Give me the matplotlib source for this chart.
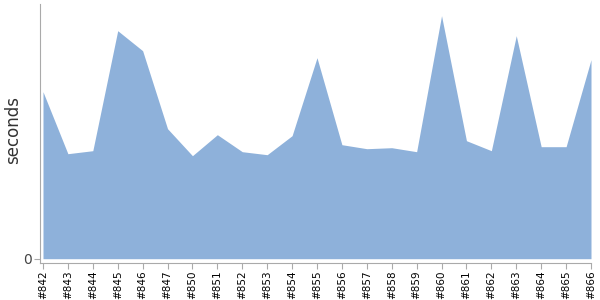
import matplotlib
matplotlib.use("Agg")
import matplotlib.pyplot as plt
import numpy as np

# build numbers shown on the x axis
builds = ["#842", "#843", "#844", "#845", "#846", "#847", "#850", "#851",
          "#852", "#853", "#854", "#855", "#856", "#857", "#858", "#859",
          "#860", "#861", "#862", "#863", "#864", "#865", "#866"]

# duration per build (seconds)
seconds = [167, 105, 108, 228, 208, 130, 103, 124,
           107, 104, 123, 201, 114, 110, 111, 107,
           243, 118, 108, 223, 112, 112, 199]

FILL = "#8eb1da"
AXIS = "#aaaaaa"

fig = plt.figure(figsize=(6, 3), dpi=100)
ax = fig.add_axes([40 / 600, 37.5 / 300, 551 / 600, 258.5 / 300])

x = np.arange(len(builds))
ax.fill_between(x, 0, seconds, color=FILL, linewidth=0)

ax.set_xlim(-0.12, len(builds) - 1)
ax.set_ylim(-3.8, 254.7)

ax.set_xticks(x)
ax.set_xticklabels(builds, rotation=90, fontsize=7.5, color="black")
ax.set_yticks([0])
ax.set_yticklabels(["0"], fontsize=10, color="#444444")

# axis title placed by hand so it stays inside the figure
fig.text(13 / 600, 170 / 300, "seconds", rotation=90, fontsize=12,
         color="#333333", ha="center", va="center")

for side in ("top", "right"):
    ax.spines[side].set_visible(False)
for side in ("left", "bottom"):
    ax.spines[side].set_color(AXIS)
ax.tick_params(axis="x", colors=AXIS, length=4, labelcolor="black", pad=2)
ax.tick_params(axis="y", colors=AXIS, length=4, labelcolor="#444444", pad=2)

fig.savefig("out.png", dpi=100)
